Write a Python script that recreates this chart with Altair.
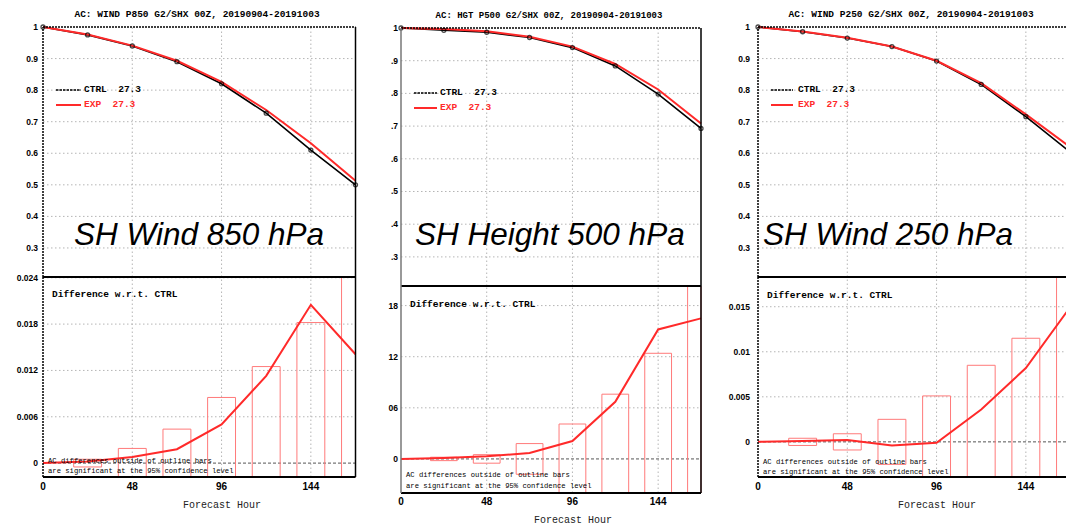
import altair as alt
import pandas as pd

# ---------------- data ----------------
hours = [0, 24, 48, 72, 96, 120, 144, 168]
bar_hours = [24, 48, 72, 96, 120, 144, 168]
x_ticks = [0, 48, 96, 144]
x_tick_labels = ["0", "48", "96", "144"]
top_ticks = [0.3, 0.4, 0.5, 0.6, 0.7, 0.8, 0.9, 1.0]

titles = [
    "AC: WIND P850 G2/SHX 00Z, 20190904-20191003",
    "AC: HGT P500 G2/SHX 00Z, 20190904-20191003",
    "AC: WIND P250 G2/SHX 00Z, 20190904-20191003",
]
names = ["SH Wind 850 hPa", "SH Height 500 hPa", "SH Wind 250 hPa"]
legend_ctrl = "CTRL\u00a0\u00a027.3"
legend_exp = "EXP\u00a0\u00a027.3"
diff_label = "Difference w.r.t. CTRL"
note_1 = "AC differences outside of outline bars"
note_2 = "are significant at the 95% confidence level"
x_title = "Forecast Hour"

ctrl = [
    [1.0, 0.975, 0.940, 0.890, 0.820, 0.727, 0.610, 0.500],
    [1.0, 0.993, 0.987, 0.971, 0.940, 0.884, 0.798, 0.693],
    [1.0, 0.985, 0.965, 0.938, 0.892, 0.818, 0.716, 0.603],
]
exp = [
    [1.0, 0.976, 0.941, 0.893, 0.826, 0.737, 0.632, 0.513],
    [1.0, 0.997, 0.990, 0.973, 0.943, 0.890, 0.812, 0.708],
    [1.0, 0.986, 0.966, 0.938, 0.893, 0.822, 0.723, 0.619],
]
diff = [
    [0.0, 0.0002, 0.0008, 0.0018, 0.0050, 0.0113, 0.0205, 0.0141],
    [0.0, 0.0001, 0.0003, 0.0007, 0.0021, 0.0067, 0.0152, 0.0165],
    [0.0, 0.0001, 0.0002, -0.0004, -0.0001, 0.0036, 0.0082, 0.0150],
]
ci = [
    [0.0005, 0.0019, 0.0044, 0.0085, 0.0125, 0.0182, 0.0241],
    [0.0002, 0.0005, 0.0018, 0.0041, 0.0076, 0.0124, 0.0203],
    [0.0004, 0.0009, 0.0025, 0.0051, 0.0085, 0.0115, 0.0183],
]
top_tick_labels = [
    ["0.3", "0.4", "0.5", "0.6", "0.7", "0.8", "0.9", "1"],
    [".3", ".4", ".5", ".6", ".7", ".8", ".9", "1"],
    ["0.3", "0.4", "0.5", "0.6", "0.7", "0.8", "0.9", "1"],
]
bot_ticks = [
    [0, 0.006, 0.012, 0.018, 0.024],
    [0, 0.006, 0.012, 0.018],
    [0, 0.005, 0.01, 0.015],
]
bot_tick_labels = [
    ["0", "0.006", "0.012", "0.018", "0.024"],
    ["0", "06", "12", "18"],
    ["0", "0.005", "0.01", "0.015"],
]

# ---------------- layout (pixel placement of each panel) ----------------
layout = [
    dict(xr=[43, 355.5], td=[0.208, 1.0], tr=[277, 27], bd=[-0.0018, 0.0241], br=[477, 277],
         title=(197, 14, 9.5), legend=(56, 81, 90, 105, 84), diff=(52, 294), note=(48, 461, 471),
         xt_y=487, xtitle=(222, 505), name=(74, 245), ylab_dx=-5, left="black"),
    dict(xr=[401, 701], td=[0.211, 1.0], tr=[286, 28], bd=[-0.004, 0.0203], br=[493, 286],
         title=(549, 15, 9), legend=(414, 437, 93, 108, 440), diff=(410, 304), note=(406, 475, 486),
         xt_y=502, xtitle=(573, 520), name=(415, 245), ylab_dx=-3, left="#777777"),
    dict(xr=[758, 1070.5], td=[0.208, 1.0], tr=[277, 27], bd=[-0.0039, 0.0183], br=[477, 277],
         title=(911, 14, 9.5), legend=(771, 793, 90, 105, 798), diff=(767, 295), note=(763, 462, 472),
         xt_y=487, xtitle=(937, 505), name=(763, 245), ylab_dx=-8, left="black"),
]

RED = "#ff2a2a"
BAR = "#ff7a7a"
GRID = "#b5b5b5"
MONO = "Liberation Mono"
SANS = "Liberation Sans"
one = pd.DataFrame({"k": [0]})


def qx(f, s):
    return alt.X(f, type="quantitative", scale=s, axis=None)


def qy(f, s):
    return alt.Y(f, type="quantitative", scale=s, axis=None)


def hrule(vals, xs, ys, **mark):
    df = pd.DataFrame({"v": vals})
    return (alt.Chart(df).transform_calculate(a="0", b="168")
            .mark_rule(clip=True, **mark)
            .encode(x=qx("a:Q", xs), x2=alt.X2("b:Q"), y=qy("v:Q", ys)))


def vrule(vals, lo, hi, xs, ys, **mark):
    df = pd.DataFrame({"h": vals})
    return (alt.Chart(df).transform_calculate(lo=repr(lo), hi=repr(hi))
            .mark_rule(clip=True, **mark)
            .encode(x=qx("h:Q", xs), y=qy("lo:Q", ys), y2=alt.Y2("hi:Q")))


def label(text, x, y, align="left", baseline="middle", **mark):
    return alt.Chart(one).mark_text(align=align, baseline=baseline, **mark).encode(
        x=alt.value(x), y=alt.value(y), text=alt.value(text))


layers = []
for i in range(3):
    L = layout[i]
    xs = alt.Scale(domain=[0, 168], range=L["xr"], clamp=True, nice=False, zero=False)
    yt = alt.Scale(domain=L["td"], range=L["tr"], nice=False, zero=False)
    yb = alt.Scale(domain=L["bd"], range=L["br"], clamp=True, nice=False, zero=False)
    t0, t1 = L["td"]
    b0, b1 = L["bd"]

    # grids
    layers.append(hrule(top_ticks[:-1], xs, yt, color=GRID, strokeDash=[1.5, 2.5], strokeWidth=1))
    layers.append(vrule([48, 96, 144], t0, t1, xs, yt, color=GRID, strokeDash=[1.5, 2.5], strokeWidth=1))
    layers.append(hrule([v for v in bot_ticks[i] if v != 0], xs, yb, color=GRID, strokeDash=[1.5, 2.5], strokeWidth=1))
    layers.append(vrule([48, 96, 144], b0, b1, xs, yb, color=GRID, strokeDash=[1.5, 2.5], strokeWidth=1))
    layers.append(hrule([0], xs, yb, color="#555555", strokeDash=[3, 2], strokeWidth=1))

    # top: AC curves
    top_df = pd.DataFrame({"h": hours, "ctrl": ctrl[i], "exp": exp[i]})
    base_t = alt.Chart(top_df)
    layers.append(base_t.mark_line(color="black", strokeWidth=1.6, clip=True)
                  .encode(x=qx("h:Q", xs), y=qy("ctrl:Q", yt)))
    layers.append(base_t.mark_line(color=RED, strokeWidth=2, clip=True)
                  .encode(x=qx("h:Q", xs), y=qy("exp:Q", yt)))
    layers.append(base_t.mark_point(color="black", shape="circle", size=16, strokeWidth=1.3,
                                    filled=False, clip=True)
                  .encode(x=qx("h:Q", xs), y=qy("ctrl:Q", yt)))

    # bottom: significance bars and difference curve
    bar_df = pd.DataFrame({"h": bar_hours, "ci": ci[i]})
    layers.append(alt.Chart(bar_df)
                  .transform_calculate(h0="datum.h - 7.5", h1="datum.h + 7.5", lo="-datum.ci")
                  .mark_rect(fill="white", fillOpacity=0, stroke=BAR, strokeOpacity=1,
                             strokeWidth=1, clip=True)
                  .encode(x=qx("h0:Q", xs), x2=alt.X2("h1:Q"),
                          y=qy("lo:Q", yb), y2=alt.Y2("ci:Q")))
    diff_df = pd.DataFrame({"h": hours, "d": diff[i]})
    layers.append(alt.Chart(diff_df).mark_line(color=RED, strokeWidth=2, clip=True)
                  .encode(x=qx("h:Q", xs), y=qy("d:Q", yb)))

    # frames
    layers.append(hrule([t1], xs, yt, color="black", strokeDash=[2, 1], strokeWidth=1.5))
    layers.append(hrule([b1], xs, yb, color="black", strokeWidth=2))
    layers.append(hrule([b0], xs, yb, color="black", strokeWidth=2))
    layers.append(vrule([168], t0, t1, xs, yt, color="black", strokeWidth=1.5))
    layers.append(vrule([168], b0, b1, xs, yb, color="black", strokeWidth=1.5))
    if i == 1:
        layers.append(vrule([0], t0, t1, xs, yt, color=L["left"], strokeWidth=1.5))
        layers.append(vrule([0], b0, b1, xs, yb, color=L["left"], strokeWidth=1.5))
    else:
        layers.append(vrule([0], t0, t1, xs, yt, color="black", strokeDash=[2, 1], strokeWidth=1.5))
        layers.append(vrule([0], b0, b1, xs, yb, color="black", strokeDash=[2, 1], strokeWidth=1.5))

    # tick labels
    tdf = pd.DataFrame({"v": top_ticks, "lab": top_tick_labels[i]})
    layers.append(alt.Chart(tdf).transform_calculate(a="0")
                  .mark_text(align="right", baseline="middle", dx=L["ylab_dx"], font=SANS,
                             fontWeight="bold", fontSize=8.5, color="black")
                  .encode(x=qx("a:Q", xs), y=qy("v:Q", yt), text="lab:N"))
    bdf = pd.DataFrame({"v": bot_ticks[i], "lab": bot_tick_labels[i]})
    layers.append(alt.Chart(bdf).transform_calculate(a="0")
                  .mark_text(align="right", baseline="middle", dx=L["ylab_dx"], font=SANS,
                             fontWeight="bold", fontSize=8.5, color="black")
                  .encode(x=qx("a:Q", xs), y=qy("v:Q", yb), text="lab:N"))
    xdf = pd.DataFrame({"h": x_ticks, "lab": x_tick_labels})
    layers.append(alt.Chart(xdf)
                  .mark_text(align="center", baseline="middle", font=SANS, fontWeight="bold",
                             fontSize=10, color="black", clip=True)
                  .encode(x=qx("h:Q", xs), y=alt.value(L["xt_y"]), text="lab:N"))

    # texts
    tx, ty, tfs = L["title"]
    layers.append(label(titles[i], tx, ty, align="center", font=MONO, fontWeight="bold",
                        fontSize=tfs, color="black"))
    lx0, lx1, ly0, ly1, ltx = L["legend"]
    layers.append(alt.Chart(one).mark_rule(color="black", strokeDash=[2.5, 1], strokeWidth=1.5)
                  .encode(x=alt.value(lx0), x2=alt.value(lx1), y=alt.value(ly0)))
    layers.append(alt.Chart(one).mark_rule(color=RED, strokeWidth=2)
                  .encode(x=alt.value(lx0), x2=alt.value(lx1), y=alt.value(ly1)))
    layers.append(label(legend_ctrl, ltx, ly0 - 1, font=MONO, fontWeight="bold", fontSize=9.5,
                        color="black"))
    layers.append(label(legend_exp, ltx, ly1 - 1, font=MONO, fontWeight="bold", fontSize=9.5,
                        color=RED))
    dx_, dy_ = L["diff"]
    layers.append(label(diff_label, dx_, dy_, font=MONO, fontWeight="bold", fontSize=9.5,
                        color="black"))
    nx, ny1, ny2 = L["note"]
    layers.append(label(note_1, nx, ny1, font=MONO, fontSize=7.2, color="black"))
    layers.append(label(note_2, nx, ny2, font=MONO, fontSize=7.2, color="black"))
    fx, fy = L["xtitle"]
    layers.append(label(x_title, fx, fy, align="center", font=MONO, fontSize=10, color="#222222"))
    mx, my = L["name"]
    layers.append(label(names[i], mx, my, baseline="alphabetic", font=SANS, fontStyle="italic",
                        fontSize=31.5, color="black"))

chart = (
    alt.layer(*layers)
    .resolve_scale(x="independent", y="independent")
    .properties(width=1066, height=527, padding=0,
                autosize=alt.AutoSizeParams(type="none"))
    .configure_view(stroke=None)
)

chart.save("out.html", embed_options={"renderer": "svg", "actions": False})
